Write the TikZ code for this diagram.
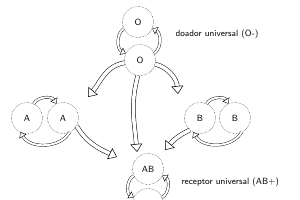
\documentclass[tikz,border=0pt]{standalone}
\usepackage{tikz}
\usetikzlibrary{arrows.meta, positioning, calc}

\begin{document}
\begin{tikzpicture}[x=1pt, y=1pt,
  every node/.style={font=\sffamily\small},
  blood/.style={circle, draw, densely dotted, minimum size=31pt, inner sep=0pt},
  fat/.style={double, double distance=3.5pt, line width=0.5pt,
    -{Triangle[open, length=8pt, width=12pt]}},
  swap/.style={double, double distance=2pt, line width=0.4pt,
    -{Triangle[open, length=5pt, width=8pt]}}]
  \useasboundingbox (0,0) rectangle (300,200);
  \node[blood] (O1)  at (138,178) {O};
  \node[blood] (O2)  at (140,140) {O};
  \node[blood] (A1)  at (27,82)   {A};
  \node[blood] (A2)  at (63,82)   {A};
  \node[blood] (B1)  at (200,82)  {B};
  \node[blood] (B2)  at (235,82)  {B};
  \node[blood] (AB1) at (148,31)  {AB};
  \node[blood] (AB2) at (148,-4)  {AB};
  \node[anchor=west] (don) at (172,166) {doador universal (O-)};
  \node[anchor=west] (rec) at (178,18) {receptor universal (AB+)};
  % ends of the donations
  \coordinate (toA)  at (88,103);
  \coordinate (toB)  at (178,106);
  \coordinate (toAB) at (137,48);
  \coordinate (AtoAB) at (117,43);
  \coordinate (BtoAB) at (165,50);
  % swaps between the pairs
  \draw[swap] (O1.205) to[bend right=60] (O2.155);
  \draw[swap] (O2.25) to[bend right=60] (O1.335);
  \draw[swap] (A1.65) to[bend left=60] (A2.115);
  \draw[swap] (A2.295) to[bend left=60] (A1.245);
  \draw[swap] (B1.65) to[bend left=60] (B2.115);
  \draw[swap] (B2.295) to[bend left=60] (B1.245);
  \draw[swap] (AB1.205) to[bend right=60] (AB2.155);
  \draw[swap] (AB2.25) to[bend right=60] (AB1.335);
  % donations
  \draw[fat] (O2.190) to[out=190, in=50] (toA);
  \draw[fat] (O2.345) to[out=-15, in=95] (toB);
  \draw[fat] (O2.262) to[out=255, in=95] (toAB);
  \draw[fat] (A2.330) to[out=-60, in=155] (AtoAB);
  \draw[fat] (B1.230) to[out=205, in=50] (BtoAB);
\end{tikzpicture}
\end{document}
